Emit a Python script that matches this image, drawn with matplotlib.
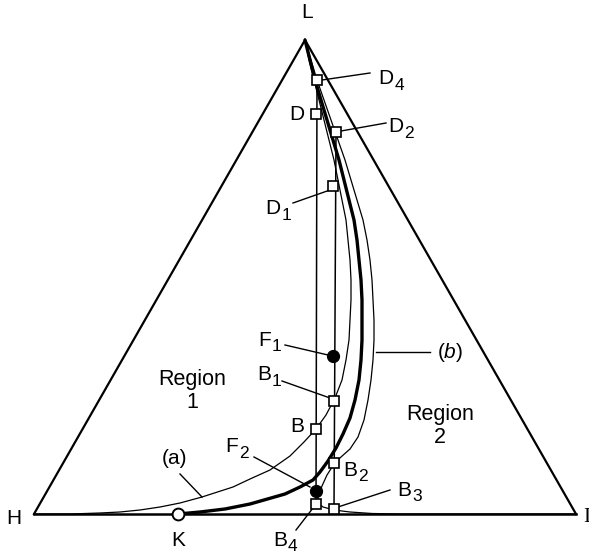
import matplotlib
matplotlib.use("Agg")
import matplotlib.pyplot as plt

plt.rcParams["font.family"] = ["Liberation Sans", "DejaVu Sans"]
plt.rcParams["mathtext.fontset"] = "custom"
plt.rcParams["mathtext.rm"] = "Liberation Sans"
plt.rcParams["mathtext.it"] = "Liberation Sans:italic"

# Diagram frame: H at the origin, I at (542, 0), L at the apex
vertex_names = ["H", "I", "L"]
vertex_x = [0, 542, 271]
vertex_y = [0, 0, 474]

# Residue curve (a), region 1
curve_a_x = [271, 275, 280, 285, 290, 295, 300, 304, 308, 312, 314, 316, 317, 317,
             316, 315, 312, 308, 301, 292, 282, 270, 256, 236, 216, 199, 168, 146,
             126, 106, 86, 66, 36, 0]
curve_a_y = [474, 454, 434, 414, 394, 374, 354, 334, 314, 294, 274, 254, 234, 214,
             194, 174, 154, 134, 116, 99, 85, 72, 58, 44, 35, 27, 17, 11,
             7, 4, 2, 1, 0, 0]

# Distillation boundary L -> K (thick)
boundary_x = [271, 276, 281, 287, 293, 299, 305, 310, 315, 320, 323, 325, 327, 328,
              328, 328, 327, 325, 321, 316, 309, 302, 294, 286, 279, 266, 251, 216,
              191, 166, 144]
boundary_y = [474, 454, 434, 414, 394, 374, 354, 334, 314, 294, 274, 254, 234, 214,
              194, 174, 154, 134, 114, 96, 80, 66, 53, 42, 34, 27, 20, 10,
              5, 2, 0]

# Residue curve (b), region 2
curve_b_x = [271, 277, 283, 290, 297, 304, 311, 317, 323, 329, 333, 336, 338, 339,
             340, 340, 339, 337, 334, 330, 324, 316, 307, 300, 293, 288, 284, 284,
             289, 300, 316, 338, 366, 542]
curve_b_y = [474, 454, 434, 414, 394, 374, 354, 334, 314, 294, 274, 254, 234, 214,
             194, 174, 154, 134, 114, 94, 77, 65, 57, 50, 39, 28, 18, 11,
             7, 4, 2, 0.5, 0, 0]

# Material balance lines (distillate -> bottoms)
line1_x = [283, 282]
line1_y = [434, 10]
line2_x = [302, 300]
line2_y = [382, 5]

# Products (squares) and feeds (dots)
prod_names = ["D4", "D", "D2", "D1", "B1", "B", "B2", "B4", "B3"]
prod_x = [283, 282, 302, 299, 300, 282, 300, 282, 300]
prod_y = [434, 400, 382, 328, 113, 85, 51, 10, 5]
feed_names = ["F1", "F2"]
feed_x = [299, 282]
feed_y = [158, 23]
azeo_x = [144]
azeo_y = [0]

# point labels: letter, subscript, x, y (left edge of letter)
sub_labels = [
    ("D", "4", 344, 435),
    ("D", "2", 354, 387),
    ("D", "1", 231, 305),
    ("F", "1", 224, 174),
    ("B", "1", 223, 139),
    ("B", "2", 309, 44),
    ("B", "3", 363, 24),
    ("B", "4", 239, -26),
    ("F", "2", 191, 67),
]
plain_labels = [
    ("D", 270, 400, "right"),
    ("B", 270, 87, "right"),
    ("(a)", 128, 55, "left"),
    ("($\\it{b}$)", 403, 162, "left"),
]
# leader lines: x0, y0, x1, y1
leaders = [
    (288, 434, 336, 441),
    (307, 383, 352, 391),
    (259, 311, 296, 324),
    (251, 169, 294, 159),
    (248, 133, 296, 116),
    (304, 7, 356, 24),
    (262, -16, 279, 6),
    (220, 57, 276, 27),
    (342, 162, 396, 162),
    (146, 40, 168, 17),
]

fig = plt.figure(figsize=(5.89, 5.56), dpi=100)
ax = fig.add_axes([0, 0, 1, 1])
ax.set_xlim(-34, 555)
ax.set_ylim(-42, 514)
ax.axis("off")

ax.plot([vertex_x[0], vertex_x[1]], [vertex_y[0], vertex_y[1]], color="black", lw=1.8)
ax.plot([vertex_x[1], vertex_x[2], vertex_x[0]], [vertex_y[1], vertex_y[2], vertex_y[0]],
        color="black", lw=1.6, solid_joinstyle="miter")

ax.plot(curve_a_x, curve_a_y, color="black", lw=0.9)
ax.plot(curve_b_x, curve_b_y, color="black", lw=0.9)
ax.plot(boundary_x, boundary_y, color="black", lw=2.4, solid_capstyle="round")
ax.plot(line1_x, line1_y, color="black", lw=1.1)
ax.plot(line2_x, line2_y, color="black", lw=1.1)

for x0, y0, x1, y1 in leaders:
    ax.plot([x0, x1], [y0, y1], color="black", lw=1.0)

ax.plot(prod_x, prod_y, "s", ms=7, mfc="white", mec="black", mew=1.2, zorder=5)
ax.plot(feed_x, feed_y, "o", ms=8.5, mfc="black", mec="black", zorder=5)
ax.plot(azeo_x, azeo_y, "o", ms=8.5, mfc="white", mec="black", mew=1.4, zorder=5)

fs = 15
letter_w = {"D": 0.722, "B": 0.667, "F": 0.611}
ax.text(273, 501, "L", fontsize=fs, ha="center", va="center")
ax.text(-20, -4, "H", fontsize=fs, ha="center", va="center")
ax.text(549, -4, "I", fontsize=fs, ha="left", va="center", family="Liberation Serif")
ax.text(144, -26, "K", fontsize=fs, ha="center", va="center")

for main, sub, x, y in sub_labels:
    ax.text(x, y, main, fontsize=fs, ha="left", va="center")
    ax.annotate(sub, (x, y), xytext=(letter_w[main] * fs + 0.8, -4.5),
                textcoords="offset points", fontsize=12.5, ha="left", va="center")
for txt, x, y, ha in plain_labels:
    ax.text(x, y, txt, fontsize=fs, ha=ha, va="center")

ax.text(158, 123, "Region\n1", fontsize=15.5, ha="center", va="center", linespacing=1.1)
ax.text(406, 88, "Region\n2", fontsize=15.5, ha="center", va="center", linespacing=1.1)

fig.savefig("out.png", dpi=100)
